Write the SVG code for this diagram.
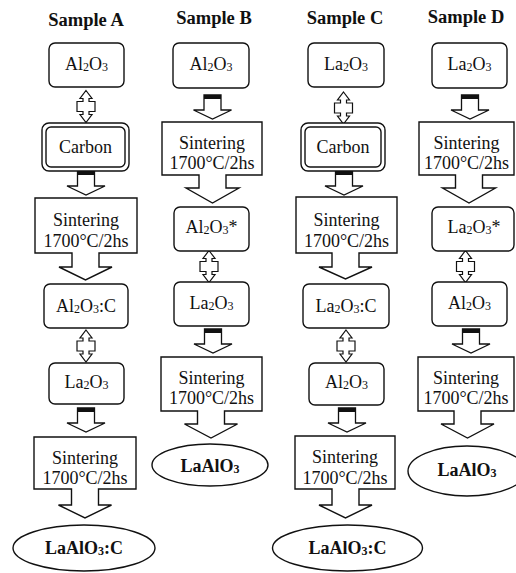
<svg xmlns="http://www.w3.org/2000/svg" xmlns:xlink="http://www.w3.org/1999/xlink" width="516" height="573" viewBox="0 0 516 573">
<style>
text{font-family:"Liberation Serif","Times New Roman",serif;fill:#111;text-anchor:middle;}
.t{font-size:18.5px;font-weight:bold;}
.lbl{font-size:18px;}
.b{font-size:18px;font-weight:bold;}
.sub{font-size:12px;}
.box{fill:#fff;stroke:#111;stroke-width:1.4;}
.dbl{fill:#fff;stroke:#111;stroke-width:1.2;stroke-linejoin:miter;}
.arr{fill:#fff;stroke:#111;stroke-width:1.3;}
.bar{fill:#111;}
</style>
<defs>
<polygon id="dblarrow" class="dbl" points="0,-16 6,-8 3,-8 3,-5 9,-5 9,5 3,5 3,8 6,8 0,16 -6,8 -3,8 -3,5 -9,5 -9,-5 -3,-5 -3,-8 -6,-8"/>
<g id="downarrow">
<path class="arr" d="M-8.5,0 V15 H-19 L0,24 L19,15 H8.5 V0 Z"/>
<rect class="bar" x="-8.5" y="0" width="17" height="4"/>
</g>
</defs>

<g id="titles">
<text class="t" x="86" y="26">Sample A</text>
<text class="t" x="214" y="24">Sample B</text>
<text class="t" x="345" y="24">Sample C</text>
<text class="t" x="466" y="23">Sample D</text>
</g>

<g id="connectors">
<use xlink:href="#dblarrow" x="86" y="106.5"/>
<use xlink:href="#dblarrow" x="86" y="346"/>
<use xlink:href="#dblarrow" x="209" y="266.5"/>
<use xlink:href="#dblarrow" x="343.5" y="108"/>
<use xlink:href="#dblarrow" x="346" y="346"/>
<use xlink:href="#dblarrow" x="465.5" y="266.5"/>
<use xlink:href="#downarrow" x="86" y="171"/>
<use xlink:href="#downarrow" x="86" y="408"/>
<use xlink:href="#downarrow" x="212.5" y="95"/>
<use xlink:href="#downarrow" x="213" y="329"/>
<use xlink:href="#downarrow" x="344" y="171"/>
<use xlink:href="#downarrow" x="347" y="408"/>
<use xlink:href="#downarrow" x="470" y="95"/>
<use xlink:href="#downarrow" x="471" y="329"/>
</g>

<!-- Column A -->
<g id="A_Al2O3">
<rect class="box" x="49" y="43" width="75" height="44" rx="6"/>
<text class="lbl" x="86.5" y="70">Al<tspan class="sub" dy="1">2</tspan><tspan dy="-1">O</tspan><tspan class="sub" dy="1">3</tspan></text>
</g>
<g id="A_Carbon">
<rect class="box" x="42" y="123" width="87" height="48" rx="7"/>
<rect class="box" x="46" y="127" width="79" height="40" rx="5" stroke-width="2"/>
<text class="lbl" x="85.5" y="153">Carbon</text>
</g>
<g id="A_Sinter1">
<path class="box" d="M35,198 H137 V253 H99 V267 H112 L85.5,280 L59,267 H72 V253 H35 Z"/>
<text class="lbl" x="86" y="226">Sintering</text>
<text class="lbl" x="86" y="247">1700°C/2hs</text>
</g>
<g id="A_Al2O3C">
<rect class="box" x="44" y="284" width="84" height="44" rx="6"/>
<text class="lbl" x="86" y="312">Al<tspan class="sub" dy="1">2</tspan><tspan dy="-1">O</tspan><tspan class="sub" dy="1">3</tspan><tspan dy="-1">:C</tspan></text>
</g>
<g id="A_La2O3">
<rect class="box" x="49" y="363" width="75" height="41" rx="6"/>
<text class="lbl" x="86.5" y="388">La<tspan class="sub" dy="1">2</tspan><tspan dy="-1">O</tspan><tspan class="sub" dy="1">3</tspan></text>
</g>
<g id="A_Sinter2">
<path class="box" d="M34,437 H136 V489 H98.5 V505 H111.5 L85,518 L58.5,505 H71.5 V489 H34 Z"/>
<text class="lbl" x="85" y="464">Sintering</text>
<text class="lbl" x="85" y="484">1700°C/2hs</text>
</g>
<g id="A_Result">
<ellipse class="box" cx="84" cy="548" rx="71" ry="23"/>
<text class="b" x="84" y="554">LaAlO<tspan class="sub" dy="1">3</tspan><tspan dy="-1">:C</tspan></text>
</g>

<!-- Column B -->
<g id="B_Al2O3">
<rect class="box" x="173" y="43" width="76" height="45" rx="6"/>
<text class="lbl" x="211" y="70">Al<tspan class="sub" dy="1">2</tspan><tspan dy="-1">O</tspan><tspan class="sub" dy="1">3</tspan></text>
</g>
<g id="B_Sinter1">
<path class="box" d="M162,122 H262 V175 H226 V188 H239 L212.5,203 L186,188 H199 V175 H162 Z"/>
<text class="lbl" x="212" y="149">Sintering</text>
<text class="lbl" x="212" y="169">1700°C/2hs</text>
</g>
<g id="B_Al2O3s">
<rect class="box" x="174" y="207" width="75" height="44" rx="6"/>
<text class="lbl" x="211.5" y="233">Al<tspan class="sub" dy="1">2</tspan><tspan dy="-1">O</tspan><tspan class="sub" dy="1">3</tspan><tspan dy="-1">*</tspan></text>
</g>
<g id="B_La2O3">
<rect class="box" x="174" y="282" width="75" height="44" rx="6"/>
<text class="lbl" x="211.5" y="309">La<tspan class="sub" dy="1">2</tspan><tspan dy="-1">O</tspan><tspan class="sub" dy="1">3</tspan></text>
</g>
<g id="B_Sinter2">
<path class="box" d="M161,357 H262 V411 H224.5 V424 H237.5 L211,438 L184.5,424 H197.5 V411 H161 Z"/>
<text class="lbl" x="211.5" y="384">Sintering</text>
<text class="lbl" x="211.5" y="404">1700°C/2hs</text>
</g>
<g id="B_Result">
<ellipse class="box" cx="210" cy="465" rx="58" ry="21"/>
<text class="b" x="210" y="472">LaAlO<tspan class="sub" dy="1">3</tspan></text>
</g>

<!-- Column C -->
<g id="C_La2O3">
<rect class="box" x="308" y="43" width="76" height="44" rx="6"/>
<text class="lbl" x="346" y="70">La<tspan class="sub" dy="1">2</tspan><tspan dy="-1">O</tspan><tspan class="sub" dy="1">3</tspan></text>
</g>
<g id="C_Carbon">
<rect class="box" x="301" y="123" width="84" height="48" rx="7"/>
<rect class="box" x="305" y="127" width="76" height="40" rx="5" stroke-width="2"/>
<text class="lbl" x="343" y="153">Carbon</text>
</g>
<g id="C_Sinter1">
<path class="box" d="M296,197 H397 V253 H359 V267 H372 L345.5,279 L319,267 H332 V253 H296 Z"/>
<text class="lbl" x="346.5" y="226">Sintering</text>
<text class="lbl" x="346.5" y="247">1700°C/2hs</text>
</g>
<g id="C_La2O3C">
<rect class="box" x="303" y="284" width="86" height="44" rx="6"/>
<text class="lbl" x="346" y="312">La<tspan class="sub" dy="1">2</tspan><tspan dy="-1">O</tspan><tspan class="sub" dy="1">3</tspan><tspan dy="-1">:C</tspan></text>
</g>
<g id="C_Al2O3">
<rect class="box" x="309" y="363" width="75" height="42" rx="6"/>
<text class="lbl" x="346.5" y="388">Al<tspan class="sub" dy="1">2</tspan><tspan dy="-1">O</tspan><tspan class="sub" dy="1">3</tspan></text>
</g>
<g id="C_Sinter2">
<path class="box" d="M295,436 H395 V489 H359 V505 H372 L345.5,518 L319,505 H332 V489 H295 Z"/>
<text class="lbl" x="345" y="463">Sintering</text>
<text class="lbl" x="345" y="484">1700°C/2hs</text>
</g>
<g id="C_Result">
<ellipse class="box" cx="347.5" cy="548" rx="75" ry="23"/>
<text class="b" x="347.5" y="554">LaAlO<tspan class="sub" dy="1">3</tspan><tspan dy="-1">:C</tspan></text>
</g>

<!-- Column D -->
<g id="D_La2O3">
<rect class="box" x="432" y="43" width="75" height="45" rx="6"/>
<text class="lbl" x="469.5" y="70">La<tspan class="sub" dy="1">2</tspan><tspan dy="-1">O</tspan><tspan class="sub" dy="1">3</tspan></text>
</g>
<g id="D_Sinter1">
<path class="box" d="M419,122 H514 V175 H482.5 V188 H495.5 L469,203 L442.5,188 H455.5 V175 H419 Z"/>
<text class="lbl" x="466.5" y="149">Sintering</text>
<text class="lbl" x="466.5" y="169">1700°C/2hs</text>
</g>
<g id="D_La2O3s">
<rect class="box" x="432" y="207" width="82" height="44" rx="6"/>
<text class="lbl" x="474" y="233">La<tspan class="sub" dy="1">2</tspan><tspan dy="-1">O</tspan><tspan class="sub" dy="1">3</tspan><tspan dy="-1">*</tspan></text>
</g>
<g id="D_Al2O3">
<rect class="box" x="432" y="282" width="75" height="44" rx="6"/>
<text class="lbl" x="469.5" y="309">Al<tspan class="sub" dy="1">2</tspan><tspan dy="-1">O</tspan><tspan class="sub" dy="1">3</tspan></text>
</g>
<g id="D_Sinter2">
<path class="box" d="M418,357 H514 V411 H481 V424 H494 L467.5,438 L441,424 H454 V411 H418 Z"/>
<text class="lbl" x="466" y="384">Sintering</text>
<text class="lbl" x="466" y="404">1700°C/2hs</text>
</g>
<g id="D_Result">
<ellipse class="box" cx="467" cy="471" rx="59" ry="25"/>
<text class="b" x="467" y="476">LaAlO<tspan class="sub" dy="1">3</tspan></text>
</g>
</svg>
